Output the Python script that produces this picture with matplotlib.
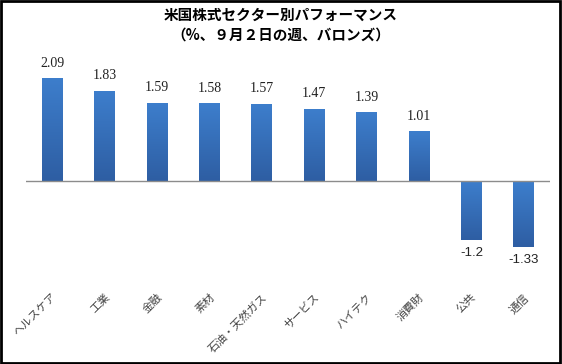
import numpy as np
import matplotlib
matplotlib.use("Agg")
import matplotlib.pyplot as plt
from matplotlib.colors import LinearSegmentedColormap
from matplotlib.patches import Rectangle

plt.rcParams['font.family'] = ['Noto Sans CJK JP', 'DejaVu Sans']

sectors = ["ヘルスケア", "工業", "金融", "素材", "石油・天然ガス",
           "サービス", "ハイテク", "消費財", "公共", "通信"]
values = [2.09, 1.83, 1.59, 1.58, 1.57, 1.47, 1.39, 1.01, -1.2, -1.33]
title = "米国株式セクター別パフォーマンス\n（%、９月２日の週、バロンズ）"

fig = plt.figure(figsize=(5.62, 3.64), dpi=100)
# axes: zero line at y=181px, ~49.3 px per unit
ax = fig.add_axes([26 / 562, (364 - 260) / 364, 524 / 562, 200 / 364])
ylim = (-(260 - 181) / 49.3, (181 - 60) / 49.3)

x = np.arange(len(values))
bars = ax.bar(x, values, width=0.4, color="#3670BD", zorder=2)

# vertical gradient on each bar
cmap = LinearSegmentedColormap.from_list("g", ["#2E5EA3", "#3D7ECC"])
grad = np.linspace(0, 1, 64).reshape(-1, 1)
for b in bars:
    x0, y0 = b.get_x(), b.get_y()
    w, h = b.get_width(), b.get_height()
    lo, hi = min(y0, y0 + h), max(y0, y0 + h)
    im = ax.imshow(grad, cmap=cmap, origin="lower", aspect="auto",
                   extent=(x0, x0 + w, lo, hi), zorder=2)
    im.set_clip_path(b)
    b.set_facecolor("none")
ax.set_xlim(-0.5, len(values) - 0.5)
ax.set_ylim(*ylim)

ax.axhline(0, color="#8C8C8C", lw=1.0, zorder=3)

for xi, v in zip(x, values):
    if v >= 0:
        ax.annotate(f"{v:g}", (xi, v), xytext=(0, 6), textcoords="offset points",
                    ha="center", va="bottom", fontsize=10,
                    family=["Liberation Serif"], color="#222222")
    else:
        ax.annotate(f"{v:g}", (xi, v), xytext=(0, -5), textcoords="offset points",
                    ha="center", va="top", fontsize=9.5,
                    family=["Liberation Sans"], color="#222222")

for s in ax.spines.values():
    s.set_visible(False)
ax.set_yticks([])
ax.set_xticks([])

# category labels, rotated, anchored at top-right
label_y = -(292 - 260) / 200
for xi, name in zip(x, sectors):
    ax.text(xi, label_y, name, transform=ax.get_xaxis_transform(),
            rotation=45, rotation_mode="anchor", ha="right", va="top",
            fontsize=8, color="#444444")

fig.text(0.5, 1 - 25 / 364, title, ha="center", va="center",
         fontsize=10.5, fontweight="bold", linespacing=1.3)

fig.patches.append(Rectangle((0.002, 0.003), 0.995, 0.994, transform=fig.transFigure,
                             fill=False, edgecolor="black", lw=2))

fig.savefig("out.png", dpi=100)
